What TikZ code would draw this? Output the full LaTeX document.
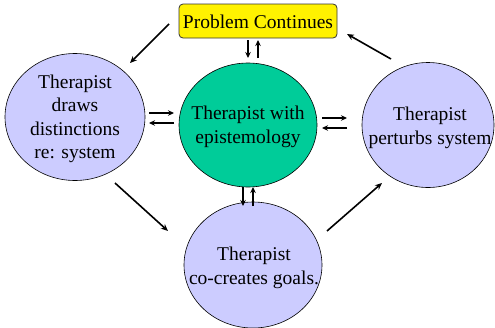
\documentclass[tikz,border=0pt]{standalone}
\usepackage{fontspec}
\setmainfont{Liberation Serif}
\usetikzlibrary{shapes.geometric,arrows.meta}
\definecolor{lav}{RGB}{204,204,255}
\definecolor{tealgreen}{RGB}{0,204,153}
\begin{document}
\begin{tikzpicture}[x=1pt,y=-1pt,
  bubble/.style={ellipse,draw=black,line width=0.6pt,inner sep=0pt},
  txt/.style={align=center,font=\fontsize{19.5}{23.5}\selectfont,inner sep=0pt},
  arr/.style={line width=1.6pt,-{Stealth[length=7pt,width=6pt]}},
  pr/.style={line width=1.4pt,-{Stealth[length=6pt,width=5.5pt]}}]
\useasboundingbox (0,0) rectangle (495,327);
% shapes
\node[draw=black!80,fill=yellow,rounded corners=4pt,line width=0.8pt,
  minimum width=158pt,minimum height=34pt,inner sep=0pt] (prob) at (258,21) {};
\node[txt] (probt) at (258,22) {Problem Continues};
\node[bubble,fill=lav,minimum width=140pt,minimum height=127pt] (left) at (75,117) {};
\node[txt] (leftt) at (75,119) {Therapist\\draws\\distinctions\\re: system};
\node[bubble,fill=tealgreen,minimum width=138pt,minimum height=124pt] (mid) at (248,125) {};
\node[txt] (midt) at (248,127) {Therapist with\\epistemology};
\node[bubble,fill=lav,minimum width=132pt,minimum height=125pt] (right) at (428,125) {};
\node[txt] (rightt) at (430,128) {Therapist\\perturbs system};
\node[bubble,fill=lav,minimum width=138pt,minimum height=126pt] (bot) at (253,265) {};
\node[txt] (bott) at (254,268) {Therapist\\co-creates goals.};
% arrow endpoints
\coordinate (a1s) at (169,24); \coordinate (a1e) at (130,63);
\coordinate (a2s) at (391,59); \coordinate (a2e) at (347,34);
\coordinate (a3s) at (115,183); \coordinate (a3e) at (168,231);
\coordinate (a4s) at (327,231); \coordinate (a4e) at (382,183);
\draw[arr] (a1s) -- (a1e);
\draw[arr] (a2s) -- (a2e);
\draw[arr] (a3s) -- (a3e);
\draw[arr] (a4s) -- (a4e);
% pairs: top
\coordinate (t1) at (248,40); \coordinate (t2) at (248,58);
\coordinate (t3) at (258,58); \coordinate (t4) at (258,40);
\draw[pr] (t1) -- (t2);
\draw[pr] (t3) -- (t4);
% pairs: left
\coordinate (l1) at (149,113); \coordinate (l2) at (174,113);
\coordinate (l3) at (174,123); \coordinate (l4) at (149,123);
\draw[pr] (l1) -- (l2);
\draw[pr] (l3) -- (l4);
% pairs: right
\coordinate (r1) at (322,118); \coordinate (r2) at (347,118);
\coordinate (r3) at (347,128); \coordinate (r4) at (322,128);
\draw[pr] (r1) -- (r2);
\draw[pr] (r3) -- (r4);
% pairs: bottom
\coordinate (b1) at (243,187); \coordinate (b2) at (243,206);
\coordinate (b3) at (253,206); \coordinate (b4) at (253,187);
\draw[pr] (b1) -- (b2);
\draw[pr] (b3) -- (b4);
\end{tikzpicture}
\end{document}
